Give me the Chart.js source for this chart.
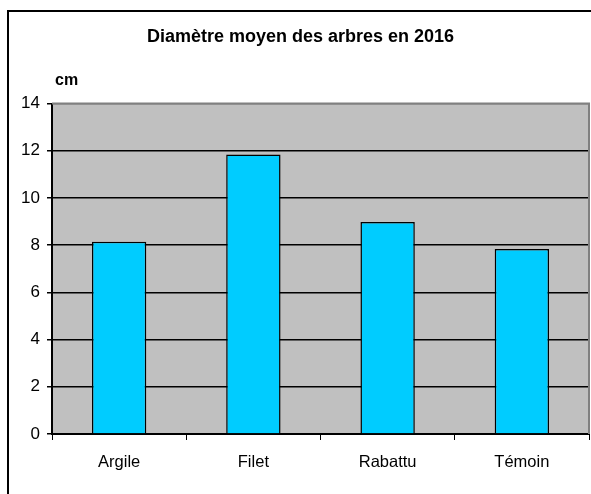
<!DOCTYPE html>
<html>
<head>
<meta charset="utf-8">
<script src="https://cdn.jsdelivr.net/npm/chart.js@4/dist/chart.umd.min.js"></script>
<style>
  html, body { margin: 0; padding: 0; background: #fff; }
  #wrap { width: 591px; height: 494px; }
</style>
</head>
<body>
<div id="wrap"><canvas id="c" width="591" height="494"></canvas></div>
<script>
const categories = ['Argile', 'Filet', 'Rabattu', 'Témoin'];
const diametres = [8.15, 11.84, 8.98, 7.84];
const yTicks = [0, 2, 4, 6, 8, 10, 12, 14];
const titleText = 'Diamètre moyen des arbres en 2016';
const unitText = 'cm';

const FONT = "'Liberation Sans', Arial, sans-serif";

const decor = {
  id: 'decor',
  beforeDraw(chart) {
    const { ctx, chartArea: a } = chart;
    ctx.save();
    ctx.fillStyle = '#ffffff';
    ctx.fillRect(0, 0, chart.width, chart.height);
    ctx.fillStyle = '#c0c0c0';
    ctx.fillRect(a.left, a.top, a.right - a.left, a.bottom - a.top);
    ctx.restore();
  },
  afterDatasetsDraw(chart) {
    const { ctx, chartArea: a } = chart;
    ctx.save();
    ctx.strokeStyle = '#808080';
    ctx.lineWidth = 2;
    ctx.beginPath();
    ctx.moveTo(a.left, a.top);
    ctx.lineTo(a.right, a.top);
    ctx.lineTo(a.right, a.bottom);
    ctx.stroke();
    ctx.restore();
  },
  afterDraw(chart) {
    const { ctx } = chart;
    ctx.save();
    ctx.strokeStyle = '#000';
    ctx.lineWidth = 2;
    ctx.strokeRect(8, 11, 800, 800);
    ctx.fillStyle = '#000';
    ctx.font = 'bold 16px ' + FONT;
    ctx.textBaseline = 'alphabetic';
    ctx.textAlign = 'left';
    ctx.fillText(unitText, 55, 85);
    ctx.restore();
  }
};

new Chart(document.getElementById('c'), {
  type: 'bar',
  data: {
    labels: categories,
    datasets: [{
      data: diametres,
      backgroundColor: '#00ccff',
      borderColor: '#000000',
      borderWidth: 1.5,
      categoryPercentage: 1,
      barPercentage: 0.405
    }]
  },
  options: {
    responsive: false,
    animation: false,
    devicePixelRatio: 1,
    layout: { padding: { top: 0, left: 12, right: 2, bottom: 0 } },
    plugins: {
      legend: { display: false },
      tooltip: { enabled: false },
      title: {
        display: true,
        text: titleText,
        color: '#000',
        font: { family: FONT, size: 18, weight: 'bold' },
        padding: { top: 26, bottom: 56 }
      }
    },
    scales: {
      x: {
        offset: true,
        grid: { offset: true, drawOnChartArea: false, color: '#000', tickLength: 6, lineWidth: 1 },
        border: { display: true, color: '#000', width: 2 },
        ticks: { color: '#000', font: { family: FONT, size: 16.5 }, padding: 13, maxRotation: 0 },
        afterFit(scale) { scale.height = 60; }
      },
      y: {
        min: 0,
        max: 14,
        afterBuildTicks(scale) { scale.ticks = yTicks.map(v => ({ value: v })); },
        grid: {
          color: ctx => (ctx.tick && ctx.tick.value === 14) ? '#808080' : '#000',
          lineWidth: 1.5,
          tickLength: 5,
          drawTicks: true,
          tickColor: '#000'
        },
        border: { display: true, color: '#000', width: 2 },
        ticks: { color: '#000', font: { family: FONT, size: 17 }, padding: 7 },
        afterFit(scale) { scale.width = 40; }
      }
    }
  },
  plugins: [decor]
});
</script>
</body>
</html>
